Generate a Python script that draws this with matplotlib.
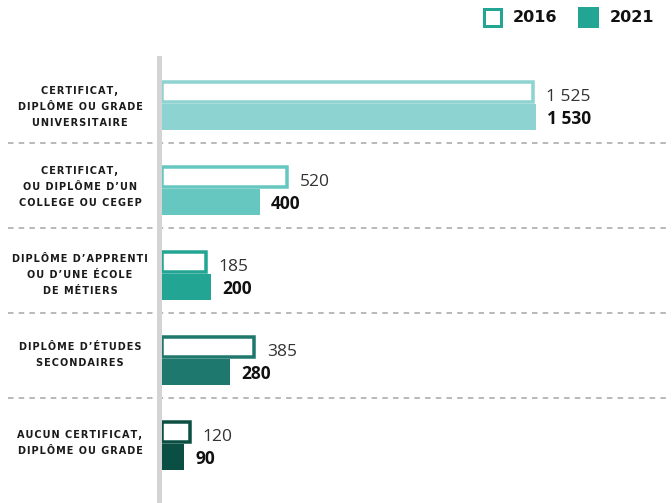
import matplotlib
matplotlib.use("Agg")
import matplotlib.pyplot as plt
from matplotlib.patches import Rectangle

# ---------------- data ----------------
categories = [
    "CERTIFICAT,\nDIPLÔME OU GRADE\nUNIVERSITAIRE",
    "CERTIFICAT,\nOU DIPLÔME D’UN\nCOLLEGE OU CEGEP",
    "DIPLÔME D’APPRENTI\nOU D’UNE ÉCOLE\nDE MÉTIERS",
    "DIPLÔME D’ÉTUDES\nSECONDAIRES",
    "AUCUN CERTIFICAT,\nDIPLÔME OU GRADE",
]
values_2016 = [1525, 520, 185, 385, 120]
values_2021 = [1530, 400, 200, 280, 90]
labels_2016 = ["1 525", "520", "185", "385", "120"]
labels_2021 = ["1 530", "400", "200", "280", "90"]
series_names = ["2016", "2021"]
colors = ["#8dd3d1", "#66c7c0", "#22a593", "#1f786d", "#0b4e43"]

# ---------------- layout ----------------
W, H = 672, 503
DPI = 100
fig = plt.figure(figsize=(W / DPI, H / DPI), dpi=DPI)
fig.patch.set_facecolor("white")

S = 0.2446          # px per unit
X0 = 162            # px where value 0 sits
PITCH = 85.0        # px per row
REF0 = 104.5        # px (from top) of the row 0 reference (between bars)


def px2x(p):
    return (p - X0) / S


def px2dy(p):
    return p / PITCH


ax = fig.add_axes([0, 0, 1, 1])
ax.set_xlim(px2x(0), px2x(W))
ax.set_ylim((H - REF0) / PITCH, -REF0 / PITCH)
ax.axis("off")

lw_px = 3.5
lw_pt = lw_px * 72 / DPI
inset_x = (lw_px / 2) / S

for i, (v16, v21, c) in enumerate(zip(values_2016, values_2021, colors)):
    # 2016 outlined bar (border drawn inside)
    top = i + px2dy(-24.5 + lw_px / 2)
    h = px2dy(23.5 - lw_px)
    ax.add_patch(Rectangle((0, top), v16 - inset_x, h, facecolor="white",
                           edgecolor=c, linewidth=lw_pt, zorder=2,
                           joinstyle="miter"))
    # 2021 filled bar
    ax.barh(i + px2dy(12.0), v21, height=px2dy(26), left=0, color=c,
            edgecolor="none", zorder=3)
    # value labels
    ax.text(v16 + 11 / S, i + px2dy(-3.8), labels_2016[i], fontsize=12.5,
            family=["Open Sans", "DejaVu Sans"], color="#333333",
            ha="left", va="baseline")
    ax.text(v21 + 11 / S, i + px2dy(19.8), labels_2021[i], fontsize=12.5,
            family=["Open Sans", "DejaVu Sans"], fontweight="bold",
            color="#111111", ha="left", va="baseline")


def spaced(s):
    return "\n".join("\u200a".join(line) for line in s.split("\n"))


offsets = [2.5, -2.5, 0.5, -4.0, -1.5]
for i, cat in enumerate(categories):
    ax.text(px2x(80), i + px2dy(offsets[i]), spaced(cat), fontsize=7.0,
            fontweight="bold", family=["DejaVu Sans"], color="#1a1a1a",
            ha="center", va="center", linespacing=1.75,
            multialignment="center")

# dashed separators
for i in range(len(categories) - 1):
    y = i + px2dy(142.5 - REF0)
    ax.plot([px2x(8), px2x(666)], [y, y], color="#a6a6a6", linewidth=1.1,
            linestyle=(0, (3.6, 3.4)), zorder=1, solid_capstyle="butt",
            dash_capstyle="butt")

# vertical axis line
fig.add_artist(Rectangle((157 / W, 0), 5 / W, (H - 55.7) / H,
                         transform=fig.transFigure, facecolor="#d4d4d4",
                         edgecolor="none", zorder=5))

# legend
def fig_rect(x0, y0, x1, y1, **kw):
    return Rectangle((x0 / W, 1 - y1 / H), (x1 - x0) / W, (y1 - y0) / H,
                     transform=fig.transFigure, **kw)

leg_c = "#22a593"
fig.add_artist(fig_rect(483.5, 8.5, 500.5, 25.5, facecolor="white",
                        edgecolor=leg_c, linewidth=3 * 72 / DPI))
fig.add_artist(fig_rect(578, 7, 599, 27.5, facecolor=leg_c,
                        edgecolor="none"))
fig.text(513 / W, 1 - 17.5 / H, series_names[0], fontsize=11.5,
         fontweight="bold", color="#111111", ha="left", va="center")
fig.text(610 / W, 1 - 17.5 / H, series_names[1], fontsize=11.5,
         fontweight="bold", color="#111111", ha="left", va="center")

fig.savefig("out.png", dpi=DPI, facecolor="white")
